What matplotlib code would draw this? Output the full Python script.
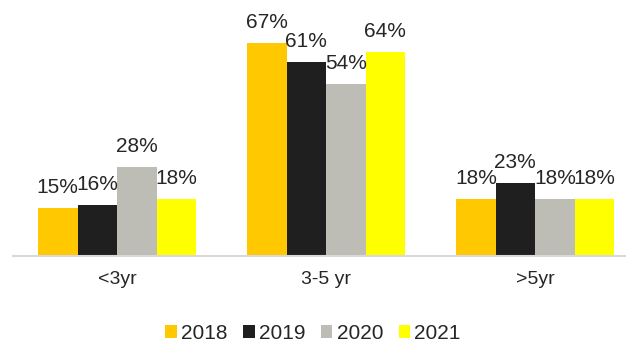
import matplotlib.pyplot as plt
import numpy as np

plt.rcParams['font.family'] = ['Liberation Sans', 'DejaVu Sans']

categories = ['<3yr', '3-5 yr', '>5yr']
years = ['2018', '2019', '2020', '2021']
values_2018 = [15, 67, 18]
values_2019 = [16, 61, 23]
values_2020 = [28, 54, 18]
values_2021 = [18, 64, 18]
colors = ['#FFC800', '#1F1F1F', '#BDBDB6', '#FFFF00']

series = [values_2018, values_2019, values_2020, values_2021]
text_color = '#262626'

fig = plt.figure(figsize=(6.26, 3.46), dpi=100)
ax = fig.add_axes([12.5 / 626, 0.26, 1 - 12.5 / 626, 0.74])

x = np.arange(len(categories))
w = 0.189
for i, (vals, yr) in enumerate(zip(series, years)):
    pos = x + (i - 1.5) * w
    bars = ax.bar(pos, vals, width=w, color=colors[i], label=yr)
    for b, v in zip(bars, vals):
        ax.annotate(f'{v}%', (b.get_x() + b.get_width() / 2, v),
                    xytext=(0, 15), textcoords='offset pixels',
                    ha='center', va='baseline', fontsize=15, color=text_color)

ax.set_xlim(-0.5, 2.435)
ax.set_ylim(0, 80.5)
ax.set_xticks(x)
ax.set_xticklabels(categories, fontsize=14, color=text_color)
ax.tick_params(axis='x', length=0, pad=11)
ax.set_yticks([])
for s in ['top', 'right', 'left']:
    ax.spines[s].set_visible(False)
ax.spines['bottom'].set_color('#D9D9D9')
ax.spines['bottom'].set_linewidth(1.5)

fig.legend(loc='lower center', bbox_to_anchor=(0.5, -0.045), ncol=4, frameon=False,
           fontsize=15, handlelength=0.55, handleheight=0.55, handletextpad=0.2,
           columnspacing=0.75, labelcolor=text_color)

fig.savefig('out.png', dpi=100)
